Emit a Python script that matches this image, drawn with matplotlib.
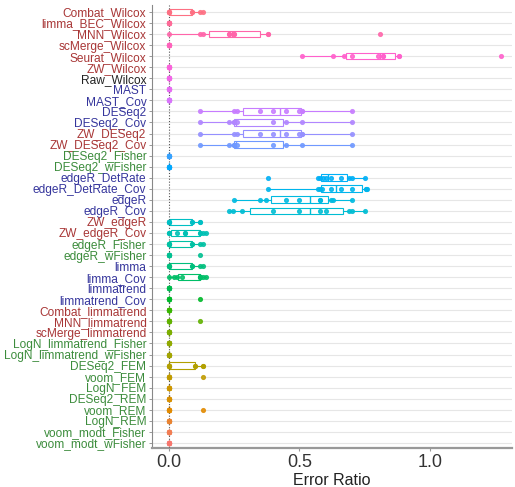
import matplotlib
matplotlib.use("Agg")
import matplotlib.pyplot as plt
import matplotlib.transforms as mtransforms
import numpy as np

plt.rcParams['font.family'] = ['Liberation Sans', 'DejaVu Sans']

# Methods, top to bottom as they appear on the chart
methods = [
    "Combat_Wilcox", "limma_BEC_Wilcox", "MNN_Wilcox", "scMerge_Wilcox",
    "Seurat_Wilcox", "ZW_Wilcox", "Raw_Wilcox", "MAST", "MAST_Cov",
    "DESeq2", "DESeq2_Cov", "ZW_DESeq2", "ZW_DESeq2_Cov",
    "DESeq2_Fisher", "DESeq2_wFisher",
    "edgeR_DetRate", "edgeR_DetRate_Cov", "edgeR", "edgeR_Cov",
    "ZW_edgeR", "ZW_edgeR_Cov", "edgeR_Fisher", "edgeR_wFisher",
    "limma", "limma_Cov", "limmatrend", "limmatrend_Cov",
    "Combat_limmatrend", "MNN_limmatrend", "scMerge_limmatrend",
    "LogN_limmatrend_Fisher", "LogN_limmatrend_wFisher",
    "DESeq2_FEM", "voom_FEM", "LogN_FEM", "DESeq2_REM", "voom_REM",
    "LogN_REM", "voom_modt_Fisher", "voom_modt_wFisher",
]

# label colour group for every method (same order)
groups = [
    "bec", "bec", "bec", "bec", "bec", "bec", "raw", "cov", "cov",
    "cov", "cov", "bec", "bec", "meta", "meta",
    "cov", "cov", "cov", "cov", "bec", "bec", "meta", "meta",
    "cov", "cov", "cov", "cov", "bec", "bec", "bec", "meta", "meta",
    "meta", "meta", "meta", "meta", "meta", "meta", "meta", "meta",
]
group_colors = {"bec": "#A83636", "raw": "#222222", "cov": "#35359C", "meta": "#3C8C3C"}

# error ratios per method
all_zero = [0, 0, 0, 0, 0, 0, 0, 0, 0, 0]
combat_wilcox = [0, 0, 0, 0, 0, 0, 0.09, 0.09, 0.12, 0.13]
mnn_wilcox = [0, 0.12, 0.13, 0.23, 0.23, 0.25, 0.25, 0.38, 0.38, 0.81]
seurat_wilcox = [0.51, 0.63, 0.67, 0.70, 0.80, 0.82, 0.82, 0.88, 0.88, 1.27]
deseq2 = [0.12, 0.25, 0.26, 0.35, 0.40, 0.45, 0.50, 0.51, 0.51, 0.70]
deseq2_cov = [0.12, 0.23, 0.25, 0.25, 0.25, 0.26, 0.40, 0.45, 0.51, 0.70]
zw_deseq2 = [0.12, 0.25, 0.26, 0.35, 0.40, 0.45, 0.50, 0.51, 0.51, 0.70]
zw_deseq2_cov = [0.12, 0.23, 0.25, 0.25, 0.25, 0.26, 0.40, 0.45, 0.51, 0.70]
edger_detrate = [0.38, 0.57, 0.58, 0.59, 0.60, 0.62, 0.66, 0.69, 0.70, 0.75]
edger_detrate_cov = [0.38, 0.57, 0.58, 0.585, 0.62, 0.66, 0.70, 0.755, 0.755, 0.76]
edger = [0.25, 0.35, 0.37, 0.45, 0.50, 0.58, 0.58, 0.62, 0.63, 0.70]
edger_cov = [0.23, 0.245, 0.28, 0.40, 0.50, 0.58, 0.60, 0.69, 0.70, 0.75]
zw_edger = [0, 0, 0, 0, 0, 0, 0.09, 0.09, 0.12, 0.12]
zw_edger_cov = [0, 0, 0, 0.03, 0.06, 0.06, 0.12, 0.12, 0.13, 0.14]
edger_fisher = [0, 0, 0, 0, 0, 0, 0.09, 0.09, 0.12, 0.13]
edger_wfisher = [0, 0, 0, 0, 0, 0, 0, 0, 0, 0.12]
limma = [0, 0, 0, 0, 0, 0, 0.09, 0.09, 0.12, 0.13]
limma_cov = [0, 0.02, 0.03, 0.05, 0.12, 0.12, 0.12, 0.12, 0.13, 0.14]
limmatrend_cov = [0, 0, 0, 0, 0, 0, 0, 0, 0, 0.12]
mnn_limmatrend = [0, 0, 0, 0, 0, 0, 0, 0, 0, 0.12]
deseq2_fem = [0, 0, 0, 0, 0, 0, 0.10, 0.10, 0.13, 0.13]
voom_fem = [0, 0, 0, 0, 0, 0, 0, 0, 0, 0.13]
voom_rem = [0, 0, 0, 0, 0, 0, 0, 0, 0, 0.13]

error_ratios = [
    combat_wilcox, all_zero, mnn_wilcox, all_zero, seurat_wilcox,
    all_zero, all_zero, all_zero, all_zero,
    deseq2, deseq2_cov, zw_deseq2, zw_deseq2_cov, all_zero, all_zero,
    edger_detrate, edger_detrate_cov, edger, edger_cov,
    zw_edger, zw_edger_cov, edger_fisher, edger_wfisher,
    limma, limma_cov, all_zero, limmatrend_cov,
    all_zero, mnn_limmatrend, all_zero, all_zero, all_zero,
    deseq2_fem, voom_fem, all_zero, all_zero, voom_rem,
    all_zero, all_zero, all_zero,
]

x_ticks = [0.0, 0.5, 1.0]
x_tick_labels = ["0.0", "0.5", "1.0"]


# ggplot-style hue palette (polar Luv -> sRGB)
def hue_pal(n, l=65, c=100):
    hues = np.linspace(15, 375, n + 1)[:n]
    xn, yn, zn = 95.047, 100.0, 108.883
    un = 4 * xn / (xn + 15 * yn + 3 * zn)
    vn = 9 * yn / (xn + 15 * yn + 3 * zn)
    Y = yn * ((l + 16) / 116.0) ** 3
    m = np.array([[3.2404542, -1.5371385, -0.4985314],
                  [-0.9692660, 1.8760108, 0.0415560],
                  [0.0556434, -0.2040259, 1.0572252]])
    cols = []
    for h in hues:
        u = c * np.cos(np.radians(h))
        v = c * np.sin(np.radians(h))
        up = u / (13 * l) + un
        vp = v / (13 * l) + vn
        X = Y * 9 * up / (4 * vp)
        Z = Y * (12 - 3 * up - 20 * vp) / (4 * vp)
        lin = m.dot(np.array([X, Y, Z]) / 100.0)
        rgb = np.where(lin <= 0.0031308, 12.92 * lin, 1.055 * np.abs(lin) ** (1 / 2.4) - 0.055)
        cols.append(tuple(np.clip(rgb, 0, 1)))
    return cols


n = len(methods)
palette = hue_pal(n)
# first factor level sits at the bottom of the chart
row_colors = [palette[n - 1 - i] for i in range(n)]
ys = np.arange(n)

fig = plt.figure(figsize=(5.15, 4.87), dpi=100)
ax = fig.add_axes([152 / 515, 39 / 487, 360 / 515, 443 / 487])

bp = ax.boxplot(error_ratios, positions=ys, vert=False, widths=0.6, whis=1.5,
                showfliers=False, showcaps=False, patch_artist=True,
                manage_ticks=False)
for i in range(n):
    col = row_colors[i]
    bp['boxes'][i].set_facecolor('white')
    bp['boxes'][i].set_edgecolor(col)
    bp['boxes'][i].set_linewidth(0.8)
    bp['medians'][i].set_color(col)
    bp['medians'][i].set_linewidth(1.0)
    for w in bp['whiskers'][2 * i:2 * i + 2]:
        w.set_color(col)
        w.set_linewidth(0.8)

# every value drawn as a point on top of its box
for i in range(n):
    vals = error_ratios[i]
    ax.plot(vals, [ys[i]] * len(vals), 'o', ms=2.7, color=row_colors[i],
            mec=row_colors[i], zorder=4, alpha=0.85)

ax.axvline(0, color='#555555', ls=(0, (1, 1.6)), lw=0.8, zorder=3)

ax.set_yticks(ys)
ax.set_yticklabels(methods, fontsize=8.6)
for lab, g in zip(ax.get_yticklabels(), groups):
    lab.set_color(group_colors[g])
ax.set_ylim(39.46, -0.63)
ax.set_xlim(-0.065, 1.314)

ax.set_xticks(x_ticks)
ax.set_xticklabels(x_tick_labels, fontsize=13, color='#333333')
shift = mtransforms.ScaledTranslation(-0.07, 0, fig.dpi_scale_trans)
for lab in ax.get_xticklabels():
    lab.set_transform(lab.get_transform() + shift)
ax.set_xlabel("Error Ratio", fontsize=11.5, color='#222222', labelpad=1)

ax.grid(axis='y', color='#E6E6E6', lw=0.8)
ax.set_axisbelow(True)
for s in ['top', 'right']:
    ax.spines[s].set_visible(False)
ax.spines['left'].set_color('#888888')
ax.spines['left'].set_linewidth(0.8)
ax.spines['bottom'].set_color('#999999')
ax.spines['bottom'].set_linewidth(1.6)
ax.tick_params(axis='y', length=2.5, width=0.6, color='#888888', pad=1.5)
ax.tick_params(axis='x', length=2.5, width=0.8, color='#999999', pad=2)

fig.savefig("out.png", dpi=100)
